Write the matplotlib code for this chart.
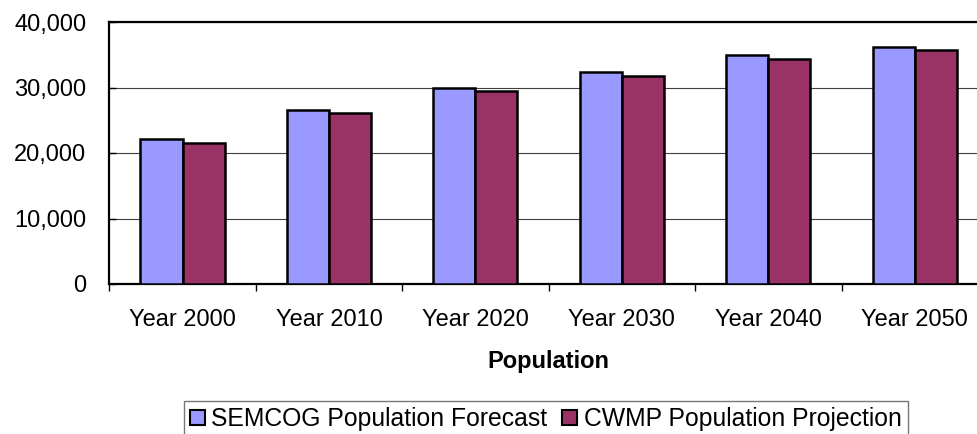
import matplotlib
matplotlib.use("Agg")
import matplotlib.pyplot as plt
from matplotlib.ticker import FuncFormatter
import numpy as np

categories = ["Year 2000", "Year 2010", "Year 2020", "Year 2030", "Year 2040", "Year 2050"]
semcog = [22100, 26600, 29900, 32300, 34900, 36200]
cwmp = [21600, 26100, 29400, 31800, 34400, 35700]
series_labels = ["SEMCOG Population Forecast", "CWMP Population Projection"]
y_ticks = [0, 10000, 20000, 30000, 40000]

plt.rcParams['font.family'] = ['Liberation Sans', 'DejaVu Sans']

W, H = 978, 434
fig = plt.figure(figsize=(W / 100, H / 100), dpi=100)
left, right, top, bottom = 109.3, 988, 22, 284
ax = fig.add_axes([left / W, 1 - bottom / H, (right - left) / W, (bottom - top) / H])

x = np.arange(len(categories))
bw = 0.287
ax.bar(x - bw / 2, semcog, bw, color="#9999FF", edgecolor="black", linewidth=1.8,
       label=series_labels[0], zorder=3)
ax.bar(x + bw / 2, cwmp, bw, color="#993366", edgecolor="black", linewidth=1.8,
       label=series_labels[1], zorder=3)

ax.set_xlim(-0.5, len(categories) - 0.5)
ax.set_ylim(0, 40000)
ax.set_yticks(y_ticks)
ax.yaxis.set_major_formatter(FuncFormatter(lambda v, p: f"{int(v):,}"))
ax.yaxis.grid(True, color="#404040", linewidth=0.8, zorder=0)
ax.set_axisbelow(True)

ax.set_xticks(x)
ax.set_xticklabels(categories)
ax.set_xticks(np.arange(-0.5, len(categories)), minor=True)
ax.tick_params(axis='x', which='major', length=0, pad=18, labelsize=17)
ax.tick_params(axis='x', which='minor', length=5, width=1, direction='out', color='black')
ax.tick_params(axis='y', which='major', length=5, width=1, direction='in', pad=16.5, labelsize=17)

for s in ax.spines.values():
    s.set_linewidth(1.6)
    s.set_color("black")

fig.text(548.5 / W, 1 - 350 / H, "Population", ha='center', va='top',
         fontsize=17, fontweight='bold')

leg = fig.legend(loc='upper left', bbox_to_anchor=(184 / W, 1 - 401 / H), ncol=2,
                 fontsize=17.8, frameon=True, fancybox=False, shadow=False,
                 borderaxespad=0, borderpad=0.25, handlelength=0.61, handleheight=0.61,
                 handletextpad=0.25, columnspacing=0.6)
fr = leg.get_frame()
fr.set_edgecolor("#555555")
fr.set_linewidth(1.0)
for h in leg.legend_handles:
    h.set_linewidth(1.5)

fig.savefig("out.png", dpi=100)
